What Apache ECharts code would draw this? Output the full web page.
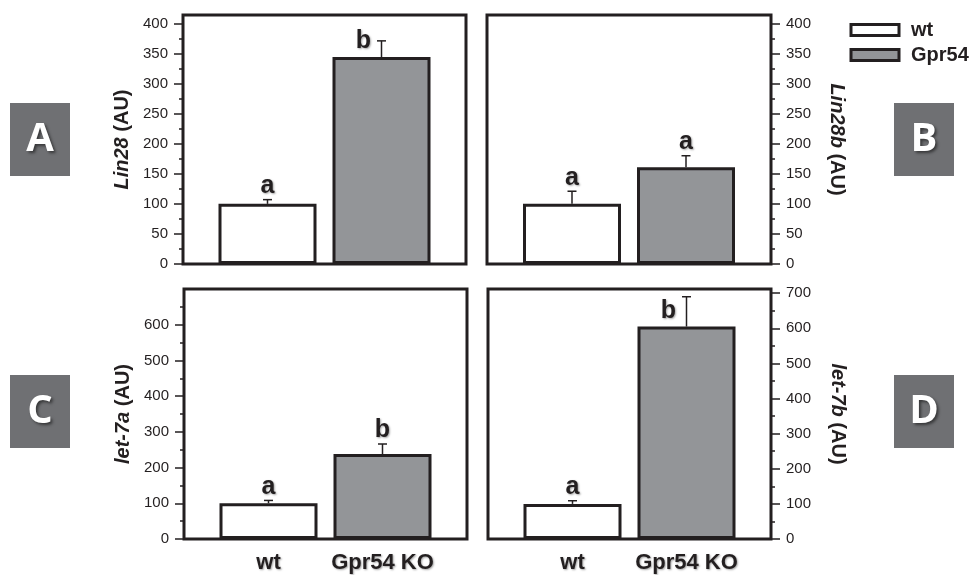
<!DOCTYPE html>
<html>
<head>
<meta charset="utf-8">
<script src="https://cdn.jsdelivr.net/npm/echarts@6/dist/echarts.min.js"></script>
<style>html,body{margin:0;padding:0;background:#fff;}#c{width:970px;height:575px;}</style>
</head>
<body>
<div id="c"></div>
<script>
// ---- data ----
const categories = ['wt', 'Gpr54 KO'];
const legendNames = ['wt', 'Gpr54'];
const panelNames = ['Lin28', 'Lin28b', 'let-7a', 'let-7b'];
const panelTags = ['A', 'B', 'C', 'D'];
const wtMean = [100, 100, 100, 100];
const wtErr = [7, 21, 8, 9];
const koMean = [344, 161, 238, 605];
const koErr = [27, 19, 28, 85];
const wtLetter = ['a', 'a', 'a', 'a'];
const koLetter = ['b', 'a', 'b', 'b'];
const yMax = [414, 414, 700, 712];
const ticksAB = [0, 50, 100, 150, 200, 250, 300, 350, 400];
const minorAB = [25, 75, 125, 175, 225, 275, 325, 375];
const ticksC = [0, 100, 200, 300, 400, 500, 600];
const minorC = [50, 150, 250, 350, 450, 550, 650];
const ticksD = [0, 100, 200, 300, 400, 500, 600, 700];
const minorD = [50, 150, 250, 350, 450, 550, 650];
const majorTicks = [ticksAB, ticksAB, ticksC, ticksD];
const minorTicks = [minorAB, minorAB, minorC, minorD];

// ---- layout / style ----
const INK = '#231f20';
const GRAY = '#939598';
const FONT = 'Liberation Sans, Arial, sans-serif';
const BAR_W = 98;
const GAP_PX = 16;
const BAR_GAP = (GAP_PX / BAR_W * 100) + '%';
const OFFSET = (BAR_W + GAP_PX) / 2;
const grids = [
  {left: 183, top: 15, width: 283, height: 249},
  {left: 487, top: 15, width: 284, height: 249},
  {left: 184, top: 289, width: 283, height: 250},
  {left: 488, top: 289, width: 283, height: 250}
];
const right = [false, true, false, true];
const nameGaps = [51, 56, 51, 57];
const tagBoxes = [[10, 103], [894, 103], [10, 375], [894, 375]];

const option = {
  animation: false,
  backgroundColor: '#fff',
  textStyle: {fontFamily: FONT},
  legend: {
    data: legendNames,
    orient: 'vertical',
    left: 844.5,
    top: 15,
    icon: 'rect',
    itemWidth: 48,
    itemHeight: 11,
    itemGap: 5,
    selectedMode: false,
    itemStyle: {borderWidth: 3, borderColor: INK},
    textStyle: {fontSize: 20, fontWeight: 'bold', color: INK, fontFamily: FONT, padding: [0, 0, 0, 7]}
  },
  grid: grids.map(g => Object.assign({show: true, borderColor: INK, borderWidth: 3, backgroundColor: 'transparent'}, g)),
  xAxis: grids.map((g, i) => ({
    type: 'category', gridIndex: i, data: [''],
    axisLine: {show: false}, axisTick: {show: false}, axisLabel: {show: false}
  })),
  yAxis: [],
  series: [],
  graphic: []
};

panelNames.forEach((name, i) => {
  const nameText = '{i|' + name + '} (AU)';
  option.yAxis.push({
    type: 'value', gridIndex: i, min: 0, max: yMax[i],
    position: right[i] ? 'right' : 'left',
    splitLine: {show: false},
    axisLine: {show: false},
    axisTick: {show: true, length: 9, customValues: majorTicks[i], lineStyle: {color: INK, width: 1.5}},
    axisLabel: {customValues: majorTicks[i], margin: 15, fontSize: 15, color: INK, fontFamily: FONT},
    name: nameText,
    nameLocation: 'middle',
    nameGap: nameGaps[i],
    nameRotate: right[i] ? -90 : 90,
    nameTextStyle: {
      fontSize: 20, fontWeight: 'bold', color: INK, fontFamily: FONT,
      rich: {i: {fontSize: 20, fontWeight: 'bold', fontStyle: 'italic', color: INK, fontFamily: FONT}}
    }
  });
});
panelNames.forEach((name, i) => {
  option.yAxis.push({
    type: 'value', gridIndex: i, min: 0, max: yMax[i],
    position: right[i] ? 'right' : 'left',
    splitLine: {show: false},
    axisLine: {show: false},
    axisLabel: {show: false},
    axisTick: {show: true, length: 4, customValues: minorTicks[i], lineStyle: {color: INK, width: 1.5}}
  });
});

const labelStyle = {
  fontSize: 22, fontWeight: 'bold', color: INK, fontFamily: FONT,
  textShadowColor: 'rgba(0,0,0,0.35)', textShadowBlur: 2, textShadowOffsetX: 1, textShadowOffsetY: 1
};

panelNames.forEach((name, i) => {
  const showCat = i >= 2;
  option.series.push({
    type: 'bar', name: legendNames[0], xAxisIndex: i, yAxisIndex: i,
    barWidth: BAR_W, barGap: BAR_GAP,
    itemStyle: {color: '#ffffff', borderColor: INK, borderWidth: 3},
    label: Object.assign({show: showCat, position: 'bottom', distance: 13, formatter: () => categories[0]}, labelStyle),
    data: [wtMean[i]]
  });
  option.series.push({
    type: 'bar', name: legendNames[1], xAxisIndex: i, yAxisIndex: i,
    barWidth: BAR_W, barGap: BAR_GAP,
    itemStyle: {color: GRAY, borderColor: INK, borderWidth: 3},
    label: Object.assign({show: showCat, position: 'bottom', distance: 13, formatter: () => categories[1]}, labelStyle),
    data: [koMean[i]]
  });
  const letters = [wtLetter[i], koLetter[i]];
  option.series.push({
    type: 'custom', xAxisIndex: i, yAxisIndex: i, z: 5,
    data: [[0, wtMean[i], wtErr[i], 0], [0, koMean[i], koErr[i], 1]],
    encode: {x: 0, y: 1},
    renderItem: function (params, api) {
      const mean = api.value(1), err = api.value(2), g = api.value(3);
      const base = api.coord([0, mean]);
      const top = api.coord([0, mean + err]);
      const cx = base[0] + (g === 0 ? -OFFSET : OFFSET);
      const gridTop = params.coordSys.y;
      const cap = 4.5;
      let tx = cx, ty = top[1] - 1;
      if (top[1] - 30 < gridTop) { tx = cx - 18; ty = base[1] - 3; }
      return {
        type: 'group',
        children: [
          {type: 'line', shape: {x1: cx, y1: base[1], x2: cx, y2: top[1]}, style: {stroke: INK, lineWidth: 1.5}},
          {type: 'line', shape: {x1: cx - cap, y1: top[1], x2: cx + cap, y2: top[1]}, style: {stroke: INK, lineWidth: 1.5}},
          {type: 'text', x: tx, y: ty, style: {
            text: letters[params.dataIndex], fill: INK, font: 'bold 25px ' + FONT,
            align: 'center', verticalAlign: 'bottom',
            textShadowColor: 'rgba(0,0,0,0.35)', textShadowBlur: 2, textShadowOffsetX: 1, textShadowOffsetY: 1
          }}
        ]
      };
    }
  });
  const b = tagBoxes[i];
  option.graphic.push({
    type: 'group', left: b[0], top: b[1],
    children: [
      {type: 'rect', shape: {x: 0, y: 0, width: 60, height: 73}, style: {fill: '#6f7073'}},
      {type: 'text', x: 30, y: 37, style: {
        text: panelTags[i], fill: '#ffffff', font: 'bold 40px "Open Sans", sans-serif',
        align: 'center', verticalAlign: 'middle',
        textShadowColor: 'rgba(0,0,0,0.5)', textShadowBlur: 3, textShadowOffsetX: 2, textShadowOffsetY: 2
      }}
    ]
  });
});

const chart = echarts.init(document.getElementById('c'), null, {renderer: 'canvas'});
chart.setOption(option);
</script>
</body>
</html>
